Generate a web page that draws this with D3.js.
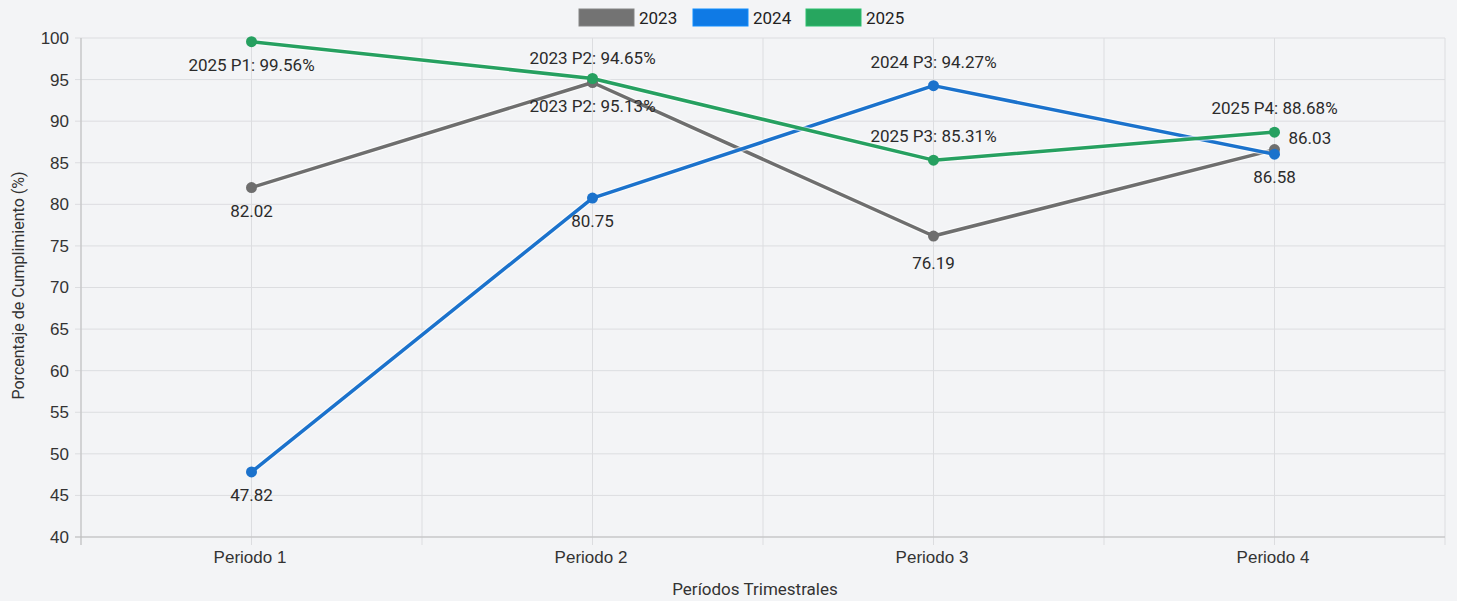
<!DOCTYPE html>
<html>
<head>
<meta charset="utf-8">
<script src="https://cdn.jsdelivr.net/npm/d3@7"></script>
<style>
  body { margin: 0; background: #f3f4f6; }
  svg { display: block; font-family: Roboto, "Noto Sans", sans-serif; }
  .grid line { stroke: #dcdde0; stroke-width: 1; }
  .tick text { fill: #333; font-size: 17px; }
  .lbl { fill: #2b2b2b; font-size: 17px; }
</style>
</head>
<body>
<svg class="main" width="1457" height="601"></svg>
<script>
var periods = ["Periodo 1", "Periodo 2", "Periodo 3", "Periodo 4"];
var years = ["2023", "2024", "2025"];
var colors = ["#6e6e6e", "#1b72cc", "#26a060"];
var legendColors = ["#737373", "#0f7ae5", "#27a65f"];
var v2023 = [82.02, 94.65, 76.19, 86.58];
var v2024 = [47.82, 80.75, 94.27, 86.03];
var v2025 = [99.56, 95.13, 85.31, 88.68];
var yTicks = [40, 45, 50, 55, 60, 65, 70, 75, 80, 85, 90, 95, 100];

// data labels: series index, period index, text, placement
var labels = [
    [2, 0, "2025 P1: 99.56%", "below"],
    [0, 0, "82.02", "below"],
    [1, 0, "47.82", "below"],
    [0, 1, "2023 P2: 94.65%", "above"],
    [2, 1, "2023 P2: 95.13%", "below2"],
    [1, 1, "80.75", "below"],
    [1, 2, "2024 P3: 94.27%", "above"],
    [2, 2, "2025 P3: 85.31%", "above"],
    [0, 2, "76.19", "below2"],
    [2, 3, "2025 P4: 88.68%", "above"],
    [1, 3, "86.03", "right"],
    [0, 3, "86.58", "below2"]
];

var series = [v2023, v2024, v2025];

var pl = 81, pr = 1445, pt = 38, pb = 537;
var svg = d3.select("svg.main");

var x = d3.scalePoint().domain(periods).range([pl, pr]).padding(0.5);
var xb = d3.scaleBand().domain(periods).range([pl, pr]);
var y = d3.scaleLinear().domain([40, 100]).range([pb, pt]);

// grid
var grid = svg.append("g").attr("class", "grid");
grid.selectAll("line.h").data(yTicks).enter().append("line")
    .attr("x1", pl - 6).attr("x2", pr)
    .attr("y1", d => y(d)).attr("y2", d => y(d));
var vlines = periods.map(p => x(p)).concat(periods.map(p => xb(p)), [pr]);
grid.selectAll("line.v").data(vlines).enter().append("line")
    .attr("x1", d => d).attr("x2", d => d)
    .attr("y1", pt).attr("y2", pb + 8);

// axis lines
svg.append("line").attr("x1", pl).attr("x2", pl).attr("y1", pt).attr("y2", pb + 8)
    .attr("stroke", "#bdbdbd");
svg.append("line").attr("x1", pl - 6).attr("x2", pr).attr("y1", pb).attr("y2", pb)
    .attr("stroke", "#bdbdbd");

// tick labels
var ya = svg.append("g").attr("transform", "translate(" + pl + ",0)")
    .call(d3.axisLeft(y).tickValues(yTicks).tickSize(0).tickPadding(12));
ya.select(".domain").remove();

var xa = svg.append("g").attr("transform", "translate(0," + pb + ")")
    .call(d3.axisBottom(x).tickSize(0).tickPadding(14));
xa.select(".domain").remove();
xa.selectAll(".tick text").attr("dx", -2);

// axis titles
svg.append("text").attr("x", (pl + pr) / 2 - 8).attr("y", 595)
    .attr("text-anchor", "middle").attr("fill", "#333").attr("font-size", 17)
    .text("Períodos Trimestrales");
svg.append("text").attr("transform", "translate(24," + ((pt + pb) / 2 - 2) + ") rotate(-90)")
    .attr("text-anchor", "middle").attr("fill", "#333").attr("font-size", 16)
    .text("Porcentaje de Cumplimiento (%)");

// lines
var line = d3.line().x((d, i) => x(periods[i])).y(d => y(d));
series.forEach(function (s, k) {
    svg.append("path").datum(s).attr("d", line)
        .attr("fill", "none").attr("stroke", "#ffffff").attr("stroke-opacity", 0.6)
        .attr("stroke-width", 6).attr("stroke-linejoin", "round");
    svg.append("path").datum(s).attr("d", line)
        .attr("fill", "none").attr("stroke", colors[k])
        .attr("stroke-width", 3.5).attr("stroke-linejoin", "round");
});
series.forEach(function (s, k) {
    svg.selectAll("circle.s" + k).data(s).enter().append("circle")
        .attr("cx", (d, i) => x(periods[i])).attr("cy", d => y(d))
        .attr("r", 5.5).attr("fill", colors[k]);
});

// data labels
var off = { above: [0, -18], below: [0, 29], below2: [0, 33], right: [14, -10] };
labels.forEach(function (l) {
    var v = series[l[0]][l[1]];
    var o = off[l[3]];
    svg.append("text").attr("class", "lbl")
        .attr("x", x(periods[l[1]]) + o[0]).attr("y", y(v) + o[1])
        .attr("text-anchor", l[3] == "right" ? "start" : "middle")
        .text(l[2]);
});

// legend
var legX = [579, 693, 806];
years.forEach(function (yr, k) {
    svg.append("rect").attr("x", legX[k]).attr("y", 9).attr("width", 55).attr("height", 17)
        .attr("fill", legendColors[k]).attr("stroke", d3.color(legendColors[k]).brighter(0.4)).attr("stroke-width", 1);
    svg.append("text").attr("x", legX[k] + 60).attr("y", 24)
        .attr("fill", "#222").attr("font-size", 17).text(yr);
});
</script>
</body>
</html>
